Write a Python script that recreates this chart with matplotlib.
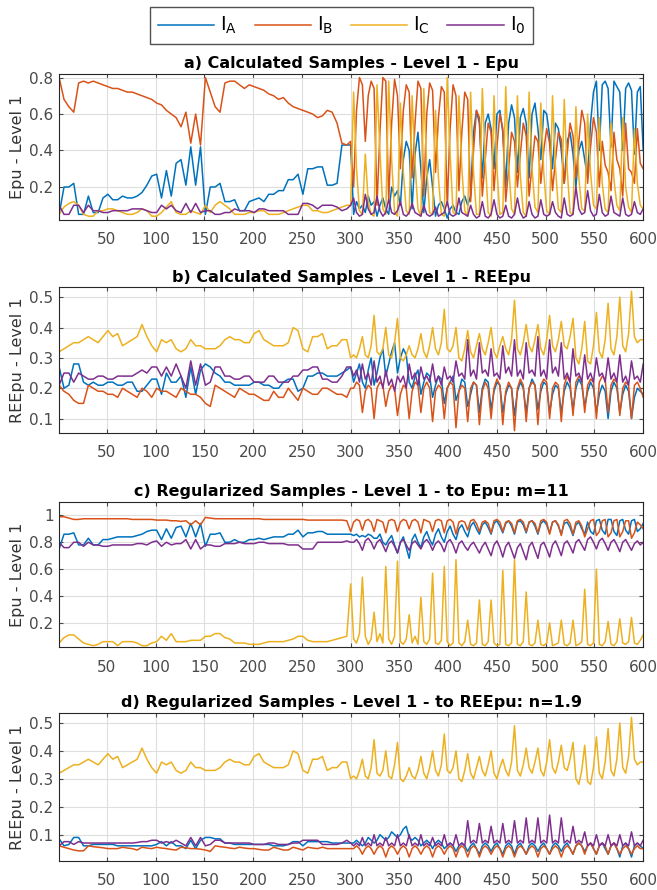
import matplotlib.pyplot as plt

plt.rcParams['font.family'] = ['DejaVu Sans']

# sample index: 1..296 every 5, then 300..600 every 3
samples = list(range(1, 300, 5)) + list(range(300, 601, 3))

# ---------------- a) Calculated Samples - Epu ----------------
ia_a = [0.05, 0.20, 0.20, 0.22, 0.05, 0.05, 0.15, 0.06, 0.06, 0.14,
        0.16, 0.13, 0.13, 0.15, 0.14, 0.14, 0.15, 0.17, 0.21, 0.26,
        0.27, 0.14, 0.29, 0.15, 0.33, 0.35, 0.21, 0.42, 0.21, 0.42,
        0.05, 0.20, 0.20, 0.22, 0.12, 0.12, 0.13, 0.07, 0.07, 0.12,
        0.13, 0.14, 0.12, 0.16, 0.16, 0.18, 0.18, 0.24, 0.24, 0.27,
        0.16, 0.30, 0.30, 0.31, 0.31, 0.21, 0.21, 0.22, 0.43, 0.43,
        0.43,
        0.05, 0.12, 0.08, 0.10, 0.06, 0.15, 0.10, 0.12, 0.04, 0.10, 0.14, 0.08,
        0.05, 0.20, 0.15, 0.18, 0.10, 0.35, 0.45, 0.40, 0.08, 0.38, 0.50, 0.30,
        0.06, 0.25, 0.35, 0.20, 0.04, 0.10, 0.12, 0.08, 0.03, 0.08, 0.10, 0.06,
        0.05, 0.12, 0.15, 0.10, 0.15, 0.50, 0.62, 0.55, 0.25, 0.55, 0.60, 0.52,
        0.30, 0.60, 0.62, 0.50, 0.20, 0.55, 0.65, 0.58, 0.28, 0.58, 0.63, 0.55,
        0.25, 0.60, 0.66, 0.52, 0.35, 0.62, 0.60, 0.48, 0.30, 0.55, 0.52, 0.40,
        0.22, 0.45, 0.50, 0.38, 0.20, 0.40, 0.45, 0.35, 0.25, 0.55, 0.72, 0.78,
        0.40, 0.76, 0.78, 0.74, 0.42, 0.78, 0.75, 0.72, 0.40, 0.74, 0.77, 0.73,
        0.38, 0.72, 0.75, 0.40]
ib_a = [0.80, 0.68, 0.64, 0.61, 0.77, 0.78, 0.77, 0.78, 0.77, 0.76,
        0.75, 0.74, 0.74, 0.73, 0.72, 0.72, 0.71, 0.70, 0.69, 0.68,
        0.66, 0.65, 0.62, 0.60, 0.58, 0.53, 0.61, 0.44, 0.60, 0.43,
        0.80, 0.72, 0.64, 0.61, 0.77, 0.78, 0.78, 0.76, 0.74, 0.76,
        0.75, 0.74, 0.73, 0.71, 0.70, 0.68, 0.69, 0.66, 0.64, 0.63,
        0.62, 0.61, 0.60, 0.58, 0.59, 0.62, 0.61, 0.55, 0.44, 0.43,
        0.45,
        0.20, 0.62, 0.80, 0.76, 0.45, 0.70, 0.78, 0.74, 0.10, 0.50, 0.80, 0.78,
        0.12, 0.55, 0.79, 0.70, 0.30, 0.62, 0.76, 0.72, 0.25, 0.55, 0.78, 0.74,
        0.15, 0.60, 0.77, 0.73, 0.28, 0.58, 0.75, 0.72, 0.10, 0.52, 0.76, 0.70,
        0.18, 0.50, 0.72, 0.68, 0.12, 0.40, 0.62, 0.58, 0.15, 0.35, 0.55, 0.50,
        0.18, 0.42, 0.60, 0.52, 0.12, 0.30, 0.50, 0.45, 0.20, 0.38, 0.55, 0.48,
        0.15, 0.32, 0.48, 0.45, 0.22, 0.40, 0.52, 0.44, 0.18, 0.35, 0.50, 0.46,
        0.22, 0.38, 0.55, 0.48, 0.25, 0.45, 0.62, 0.55, 0.22, 0.42, 0.58, 0.50,
        0.20, 0.45, 0.32, 0.28, 0.18, 0.50, 0.35, 0.30, 0.15, 0.55, 0.30, 0.28,
        0.22, 0.52, 0.33, 0.30]
ic_a = [0.05, 0.09, 0.11, 0.12, 0.10, 0.05, 0.04, 0.04, 0.07, 0.07,
        0.08, 0.08, 0.07, 0.06, 0.05, 0.05, 0.06, 0.08, 0.07, 0.04,
        0.04, 0.06, 0.09, 0.12, 0.06, 0.05, 0.05, 0.07, 0.06, 0.05,
        0.10, 0.06, 0.10, 0.12, 0.10, 0.08, 0.05, 0.05, 0.05, 0.06,
        0.06, 0.07, 0.07, 0.05, 0.05, 0.05, 0.06, 0.07, 0.08, 0.09,
        0.10, 0.10, 0.07, 0.07, 0.06, 0.06, 0.07, 0.08, 0.09, 0.10,
        0.10,
        0.72, 0.30, 0.07, 0.05, 0.38, 0.12, 0.05, 0.04, 0.76, 0.40, 0.08, 0.05,
        0.78, 0.35, 0.06, 0.04, 0.66, 0.28, 0.07, 0.05, 0.70, 0.33, 0.08, 0.04,
        0.74, 0.30, 0.06, 0.05, 0.62, 0.25, 0.05, 0.04, 0.80, 0.38, 0.06, 0.05,
        0.70, 0.30, 0.07, 0.04, 0.72, 0.28, 0.05, 0.05, 0.74, 0.35, 0.06, 0.04,
        0.70, 0.30, 0.05, 0.06, 0.75, 0.32, 0.08, 0.05, 0.70, 0.26, 0.06, 0.04,
        0.72, 0.30, 0.09, 0.06, 0.66, 0.28, 0.07, 0.05, 0.70, 0.31, 0.08, 0.06,
        0.68, 0.30, 0.06, 0.05, 0.64, 0.25, 0.08, 0.07, 0.60, 0.28, 0.10, 0.08,
        0.58, 0.22, 0.08, 0.06, 0.55, 0.24, 0.10, 0.07, 0.58, 0.20, 0.09, 0.06,
        0.52, 0.22, 0.10, 0.08]
i0_a = [0.10, 0.05, 0.05, 0.10, 0.10, 0.06, 0.10, 0.07, 0.07, 0.06,
        0.06, 0.07, 0.07, 0.07, 0.07, 0.08, 0.08, 0.08, 0.07, 0.06,
        0.06, 0.10, 0.08, 0.10, 0.07, 0.06, 0.11, 0.06, 0.11, 0.06,
        0.07, 0.07, 0.05, 0.05, 0.06, 0.06, 0.08, 0.07, 0.07, 0.07,
        0.06, 0.08, 0.08, 0.07, 0.07, 0.07, 0.07, 0.05, 0.05, 0.05,
        0.11, 0.11, 0.10, 0.08, 0.10, 0.10, 0.10, 0.09, 0.07, 0.08,
        0.10,
        0.14, 0.06, 0.04, 0.05, 0.16, 0.08, 0.05, 0.06, 0.15, 0.07, 0.04, 0.06,
        0.13, 0.06, 0.05, 0.07, 0.12, 0.05, 0.04, 0.06, 0.11, 0.06, 0.05, 0.04,
        0.10, 0.05, 0.04, 0.05, 0.09, 0.04, 0.05, 0.06, 0.12, 0.05, 0.04, 0.05,
        0.14, 0.06, 0.05, 0.04, 0.10, 0.05, 0.03, 0.04, 0.12, 0.04, 0.03, 0.05,
        0.13, 0.05, 0.03, 0.04, 0.10, 0.04, 0.03, 0.05, 0.14, 0.06, 0.03, 0.04,
        0.12, 0.05, 0.03, 0.04, 0.13, 0.05, 0.04, 0.05, 0.12, 0.06, 0.04, 0.03,
        0.14, 0.05, 0.04, 0.05, 0.20, 0.08, 0.05, 0.06, 0.18, 0.07, 0.04, 0.05,
        0.16, 0.06, 0.04, 0.05, 0.15, 0.06, 0.05, 0.04, 0.14, 0.05, 0.04, 0.05,
        0.12, 0.06, 0.05, 0.08]

# ---------------- b) Calculated Samples - REEpu ----------------
ia_b = [0.27, 0.20, 0.21, 0.28, 0.28, 0.22, 0.21, 0.22, 0.21, 0.21,
        0.22, 0.22, 0.21, 0.21, 0.22, 0.22, 0.19, 0.19, 0.21, 0.23,
        0.23, 0.18, 0.25, 0.22, 0.22, 0.24, 0.17, 0.27, 0.18, 0.26,
        0.28, 0.27, 0.25, 0.24, 0.22, 0.22, 0.21, 0.21, 0.21, 0.21,
        0.22, 0.22, 0.21, 0.21, 0.20, 0.20, 0.22, 0.23, 0.23, 0.19,
        0.20, 0.24, 0.24, 0.25, 0.25, 0.24, 0.24, 0.24, 0.25, 0.26,
        0.27,
        0.22, 0.25, 0.28, 0.22, 0.20, 0.26, 0.30, 0.21, 0.25, 0.30, 0.33, 0.24,
        0.28, 0.32, 0.35, 0.25, 0.30, 0.33, 0.31, 0.22, 0.20, 0.24, 0.26, 0.18,
        0.22, 0.25, 0.24, 0.17, 0.21, 0.24, 0.23, 0.15, 0.20, 0.22, 0.24, 0.16,
        0.19, 0.23, 0.22, 0.14, 0.18, 0.22, 0.21, 0.12, 0.20, 0.23, 0.22, 0.13,
        0.19, 0.22, 0.21, 0.12, 0.18, 0.21, 0.20, 0.11, 0.19, 0.22, 0.20, 0.12,
        0.20, 0.23, 0.21, 0.13, 0.19, 0.22, 0.21, 0.12, 0.18, 0.21, 0.20, 0.12,
        0.19, 0.22, 0.20, 0.13, 0.20, 0.23, 0.21, 0.14, 0.19, 0.22, 0.20, 0.12,
        0.18, 0.21, 0.19, 0.10, 0.19, 0.22, 0.20, 0.12, 0.18, 0.21, 0.19, 0.10,
        0.17, 0.20, 0.19, 0.18]
ib_b = [0.21, 0.19, 0.18, 0.16, 0.15, 0.15, 0.21, 0.20, 0.19, 0.19,
        0.18, 0.18, 0.17, 0.20, 0.19, 0.18, 0.17, 0.20, 0.19, 0.17,
        0.20, 0.19, 0.19, 0.18, 0.17, 0.20, 0.19, 0.18, 0.18, 0.17,
        0.15, 0.14, 0.21, 0.20, 0.19, 0.18, 0.17, 0.20, 0.19, 0.18,
        0.18, 0.17, 0.16, 0.16, 0.19, 0.17, 0.17, 0.20, 0.18, 0.16,
        0.20, 0.19, 0.18, 0.18, 0.20, 0.20, 0.19, 0.18, 0.18, 0.17,
        0.20,
        0.20, 0.22, 0.21, 0.12, 0.19, 0.21, 0.20, 0.10, 0.20, 0.22, 0.21, 0.14,
        0.19, 0.21, 0.20, 0.11, 0.18, 0.21, 0.20, 0.10, 0.19, 0.22, 0.21, 0.12,
        0.20, 0.22, 0.20, 0.09, 0.19, 0.21, 0.20, 0.10, 0.20, 0.22, 0.21, 0.07,
        0.19, 0.21, 0.20, 0.09, 0.20, 0.22, 0.21, 0.08, 0.19, 0.22, 0.20, 0.10,
        0.20, 0.23, 0.21, 0.08, 0.19, 0.22, 0.20, 0.06, 0.20, 0.23, 0.21, 0.09,
        0.20, 0.22, 0.21, 0.08, 0.21, 0.23, 0.22, 0.10, 0.20, 0.22, 0.21, 0.09,
        0.21, 0.24, 0.22, 0.11, 0.22, 0.24, 0.23, 0.12, 0.21, 0.23, 0.22, 0.10,
        0.22, 0.24, 0.23, 0.12, 0.21, 0.23, 0.22, 0.11, 0.20, 0.22, 0.21, 0.10,
        0.21, 0.22, 0.20, 0.17]
ic_b = [0.32, 0.33, 0.34, 0.35, 0.35, 0.36, 0.37, 0.36, 0.35, 0.37,
        0.39, 0.37, 0.38, 0.34, 0.35, 0.36, 0.37, 0.41, 0.37, 0.34,
        0.32, 0.36, 0.35, 0.36, 0.33, 0.32, 0.33, 0.36, 0.34, 0.34,
        0.33, 0.33, 0.33, 0.34, 0.36, 0.37, 0.36, 0.36, 0.35, 0.35,
        0.38, 0.39, 0.36, 0.35, 0.34, 0.34, 0.34, 0.35, 0.40, 0.39,
        0.33, 0.32, 0.37, 0.37, 0.38, 0.33, 0.34, 0.34, 0.36, 0.36,
        0.30,
        0.31, 0.30, 0.33, 0.37, 0.31, 0.30, 0.34, 0.44, 0.32, 0.31, 0.33, 0.40,
        0.31, 0.30, 0.35, 0.43, 0.30, 0.29, 0.31, 0.34, 0.31, 0.30, 0.33, 0.38,
        0.32, 0.30, 0.34, 0.40, 0.33, 0.31, 0.35, 0.46, 0.33, 0.32, 0.34, 0.40,
        0.30, 0.29, 0.33, 0.39, 0.32, 0.30, 0.34, 0.38, 0.33, 0.31, 0.35, 0.40,
        0.32, 0.30, 0.34, 0.37, 0.33, 0.31, 0.36, 0.49, 0.33, 0.31, 0.35, 0.41,
        0.34, 0.32, 0.36, 0.41, 0.33, 0.31, 0.36, 0.44, 0.34, 0.32, 0.36, 0.42,
        0.34, 0.33, 0.37, 0.43, 0.30, 0.28, 0.33, 0.42, 0.29, 0.28, 0.34, 0.45,
        0.32, 0.30, 0.36, 0.48, 0.33, 0.31, 0.37, 0.50, 0.34, 0.32, 0.38, 0.52,
        0.37, 0.35, 0.36, 0.36]
i0_b = [0.21, 0.25, 0.25, 0.22, 0.25, 0.24, 0.23, 0.23, 0.24, 0.24,
        0.23, 0.23, 0.24, 0.24, 0.24, 0.24, 0.25, 0.26, 0.25, 0.27,
        0.27, 0.24, 0.27, 0.24, 0.28, 0.24, 0.20, 0.29, 0.21, 0.28,
        0.21, 0.22, 0.27, 0.27, 0.24, 0.24, 0.23, 0.23, 0.24, 0.24,
        0.22, 0.22, 0.22, 0.24, 0.24, 0.22, 0.22, 0.22, 0.24, 0.24,
        0.26, 0.26, 0.27, 0.27, 0.23, 0.23, 0.22, 0.22, 0.24, 0.27,
        0.27,
        0.24, 0.26, 0.22, 0.28, 0.23, 0.25, 0.21, 0.29, 0.22, 0.24, 0.20, 0.26,
        0.21, 0.23, 0.19, 0.24, 0.22, 0.24, 0.20, 0.28, 0.23, 0.25, 0.21, 0.27,
        0.23, 0.24, 0.22, 0.28, 0.22, 0.24, 0.21, 0.27, 0.23, 0.24, 0.22, 0.29,
        0.24, 0.25, 0.23, 0.36, 0.24, 0.26, 0.23, 0.35, 0.25, 0.26, 0.24, 0.33,
        0.24, 0.25, 0.23, 0.34, 0.25, 0.27, 0.24, 0.36, 0.24, 0.26, 0.23, 0.35,
        0.25, 0.26, 0.24, 0.37, 0.24, 0.26, 0.23, 0.36, 0.25, 0.27, 0.24, 0.35,
        0.23, 0.25, 0.22, 0.33, 0.24, 0.25, 0.22, 0.31, 0.23, 0.25, 0.22, 0.30,
        0.24, 0.25, 0.22, 0.30, 0.23, 0.25, 0.22, 0.31, 0.22, 0.24, 0.21, 0.29,
        0.23, 0.24, 0.22, 0.28]

# ---------------- c) Regularized Samples - to Epu ----------------
ia_c = [0.75, 0.86, 0.86, 0.87, 0.78, 0.78, 0.83, 0.78, 0.78, 0.82,
        0.82, 0.83, 0.84, 0.84, 0.84, 0.84, 0.85, 0.86, 0.88, 0.89,
        0.89, 0.82, 0.90, 0.83, 0.91, 0.92, 0.84, 0.94, 0.84, 0.94,
        0.77, 0.86, 0.86, 0.87, 0.80, 0.80, 0.82, 0.80, 0.80, 0.82,
        0.82, 0.83, 0.82, 0.83, 0.84, 0.84, 0.84, 0.86, 0.86, 0.89,
        0.84, 0.87, 0.87, 0.88, 0.88, 0.86, 0.86, 0.86, 0.86, 0.86,
        0.86,
        0.85, 0.86, 0.84, 0.85, 0.84, 0.86, 0.85, 0.83, 0.83, 0.86, 0.80, 0.78,
        0.82, 0.85, 0.78, 0.72, 0.80, 0.84, 0.76, 0.68, 0.82, 0.86, 0.80, 0.76,
        0.84, 0.88, 0.82, 0.78, 0.86, 0.90, 0.84, 0.80, 0.88, 0.92, 0.86, 0.82,
        0.90, 0.93, 0.88, 0.84, 0.92, 0.95, 0.90, 0.86, 0.93, 0.95, 0.91, 0.86,
        0.94, 0.96, 0.92, 0.87, 0.94, 0.96, 0.92, 0.86, 0.95, 0.96, 0.93, 0.87,
        0.95, 0.96, 0.92, 0.86, 0.94, 0.96, 0.93, 0.87, 0.95, 0.96, 0.92, 0.86,
        0.94, 0.95, 0.91, 0.85, 0.93, 0.95, 0.90, 0.86, 0.95, 0.88, 0.86, 0.96,
        0.97, 0.89, 0.86, 0.97, 0.97, 0.88, 0.85, 0.96, 0.97, 0.89, 0.86, 0.96,
        0.97, 0.88, 0.90, 0.94]
ib_c = [0.99, 0.99, 0.98, 0.97, 0.97, 0.975, 0.975, 0.975, 0.975, 0.975,
        0.975, 0.975, 0.975, 0.975, 0.975, 0.97, 0.97, 0.97, 0.97, 0.97,
        0.965, 0.965, 0.965, 0.96, 0.96, 0.955, 0.96, 0.93, 0.96, 0.93,
        0.985, 0.98, 0.975, 0.975, 0.975, 0.975, 0.975, 0.975, 0.975, 0.975,
        0.975, 0.975, 0.97, 0.97, 0.97, 0.97, 0.97, 0.97, 0.97, 0.97,
        0.97, 0.965, 0.965, 0.965, 0.965, 0.965, 0.965, 0.965, 0.965, 0.96,
        0.88,
        0.95, 0.97, 0.96, 0.89, 0.96, 0.97, 0.95, 0.88, 0.97, 0.96, 0.95, 0.87,
        0.96, 0.97, 0.96, 0.88, 0.95, 0.97, 0.96, 0.90, 0.96, 0.97, 0.95, 0.87,
        0.97, 0.96, 0.95, 0.88, 0.96, 0.97, 0.96, 0.87, 0.96, 0.97, 0.95, 0.86,
        0.95, 0.96, 0.95, 0.89, 0.96, 0.97, 0.94, 0.88, 0.95, 0.96, 0.94, 0.87,
        0.96, 0.97, 0.95, 0.88, 0.95, 0.96, 0.94, 0.87, 0.96, 0.97, 0.95, 0.88,
        0.95, 0.96, 0.94, 0.87, 0.96, 0.97, 0.95, 0.86, 0.95, 0.96, 0.93, 0.85,
        0.96, 0.97, 0.94, 0.86, 0.95, 0.96, 0.92, 0.84, 0.90, 0.96, 0.97, 0.85,
        0.88, 0.96, 0.97, 0.84, 0.87, 0.96, 0.97, 0.84, 0.88, 0.96, 0.96, 0.83,
        0.87, 0.95, 0.93, 0.90]
ic_c = [0.05, 0.09, 0.11, 0.11, 0.08, 0.05, 0.04, 0.03, 0.04, 0.06,
        0.06, 0.06, 0.03, 0.06, 0.06, 0.06, 0.05, 0.03, 0.03, 0.05,
        0.06, 0.10, 0.07, 0.12, 0.06, 0.06, 0.06, 0.07, 0.07, 0.07,
        0.10, 0.10, 0.12, 0.12, 0.09, 0.08, 0.05, 0.05, 0.05, 0.04,
        0.04, 0.04, 0.05, 0.06, 0.06, 0.06, 0.06, 0.07, 0.08, 0.10,
        0.10, 0.07, 0.06, 0.06, 0.06, 0.06, 0.07, 0.08, 0.09, 0.10,
        0.49,
        0.08, 0.05, 0.12, 0.54, 0.10, 0.04, 0.08, 0.28, 0.06, 0.12, 0.05, 0.62,
        0.08, 0.04, 0.10, 0.66, 0.06, 0.04, 0.08, 0.26, 0.05, 0.10, 0.04, 0.39,
        0.06, 0.04, 0.08, 0.57, 0.05, 0.04, 0.07, 0.62, 0.06, 0.03, 0.05, 0.67,
        0.05, 0.03, 0.06, 0.22, 0.04, 0.03, 0.05, 0.37, 0.04, 0.03, 0.06, 0.37,
        0.05, 0.03, 0.04, 0.59, 0.04, 0.03, 0.05, 0.67, 0.04, 0.03, 0.06, 0.43,
        0.04, 0.03, 0.05, 0.22, 0.04, 0.03, 0.05, 0.20, 0.03, 0.04, 0.05, 0.22,
        0.04, 0.03, 0.05, 0.22, 0.03, 0.04, 0.06, 0.45, 0.04, 0.03, 0.05, 0.60,
        0.04, 0.03, 0.06, 0.21, 0.04, 0.03, 0.06, 0.23, 0.05, 0.04, 0.06, 0.24,
        0.05, 0.04, 0.07, 0.11]
i0_c = [0.80, 0.76, 0.76, 0.80, 0.80, 0.77, 0.80, 0.78, 0.78, 0.77,
        0.77, 0.78, 0.78, 0.78, 0.78, 0.78, 0.79, 0.79, 0.78, 0.80,
        0.81, 0.77, 0.80, 0.78, 0.79, 0.79, 0.82, 0.75, 0.82, 0.75,
        0.78, 0.78, 0.77, 0.77, 0.79, 0.79, 0.79, 0.80, 0.79, 0.79,
        0.79, 0.80, 0.80, 0.79, 0.79, 0.79, 0.79, 0.78, 0.78, 0.78,
        0.75, 0.75, 0.75, 0.80, 0.80, 0.80, 0.80, 0.80, 0.80, 0.81,
        0.80,
        0.80, 0.82, 0.79, 0.74, 0.81, 0.83, 0.80, 0.75, 0.80, 0.82, 0.78, 0.73,
        0.79, 0.81, 0.77, 0.72, 0.80, 0.82, 0.78, 0.74, 0.79, 0.81, 0.78, 0.75,
        0.80, 0.82, 0.79, 0.74, 0.79, 0.81, 0.78, 0.73, 0.80, 0.82, 0.78, 0.72,
        0.79, 0.81, 0.77, 0.74, 0.78, 0.80, 0.76, 0.72, 0.77, 0.80, 0.75, 0.70,
        0.78, 0.81, 0.76, 0.69, 0.77, 0.80, 0.74, 0.68, 0.76, 0.79, 0.73, 0.67,
        0.77, 0.80, 0.74, 0.68, 0.78, 0.80, 0.75, 0.69, 0.78, 0.81, 0.76, 0.70,
        0.79, 0.81, 0.77, 0.72, 0.80, 0.82, 0.78, 0.74, 0.82, 0.84, 0.80, 0.75,
        0.81, 0.83, 0.79, 0.74, 0.80, 0.82, 0.78, 0.73, 0.80, 0.82, 0.78, 0.74,
        0.79, 0.81, 0.78, 0.80]

# ---------------- d) Regularized Samples - to REEpu ----------------
ia_d = [0.085, 0.06, 0.065, 0.09, 0.09, 0.06, 0.06, 0.065, 0.065, 0.065,
        0.065, 0.065, 0.06, 0.06, 0.06, 0.06, 0.06, 0.06, 0.06, 0.06,
        0.065, 0.075, 0.06, 0.075, 0.06, 0.06, 0.05, 0.08, 0.05, 0.08,
        0.09, 0.09, 0.085, 0.085, 0.07, 0.07, 0.065, 0.065, 0.065, 0.065,
        0.065, 0.065, 0.065, 0.065, 0.06, 0.06, 0.06, 0.065, 0.075, 0.075,
        0.06, 0.075, 0.075, 0.075, 0.075, 0.075, 0.07, 0.07, 0.07, 0.07,
        0.07,
        0.07, 0.08, 0.07, 0.06, 0.07, 0.09, 0.08, 0.07, 0.08, 0.10, 0.09, 0.08,
        0.09, 0.11, 0.10, 0.09, 0.10, 0.12, 0.13, 0.09, 0.08, 0.09, 0.08, 0.06,
        0.07, 0.08, 0.07, 0.05, 0.07, 0.08, 0.07, 0.05, 0.06, 0.07, 0.06, 0.04,
        0.06, 0.07, 0.06, 0.04, 0.06, 0.07, 0.05, 0.03, 0.06, 0.07, 0.06, 0.04,
        0.06, 0.07, 0.05, 0.03, 0.06, 0.07, 0.06, 0.03, 0.06, 0.07, 0.05, 0.03,
        0.06, 0.07, 0.06, 0.04, 0.06, 0.07, 0.05, 0.03, 0.06, 0.07, 0.06, 0.04,
        0.06, 0.07, 0.05, 0.03, 0.06, 0.07, 0.06, 0.04, 0.06, 0.07, 0.05, 0.03,
        0.06, 0.07, 0.05, 0.03, 0.06, 0.07, 0.05, 0.02, 0.06, 0.07, 0.05, 0.02,
        0.06, 0.07, 0.06, 0.05]
ib_d = [0.06, 0.055, 0.05, 0.045, 0.042, 0.042, 0.06, 0.057, 0.055, 0.053,
        0.05, 0.05, 0.05, 0.055, 0.052, 0.05, 0.045, 0.055, 0.052, 0.05,
        0.055, 0.052, 0.05, 0.047, 0.045, 0.055, 0.053, 0.05, 0.05, 0.048,
        0.045, 0.04, 0.06, 0.057, 0.055, 0.052, 0.05, 0.055, 0.052, 0.05,
        0.05, 0.047, 0.045, 0.045, 0.055, 0.05, 0.045, 0.045, 0.055, 0.05,
        0.045, 0.055, 0.052, 0.05, 0.055, 0.05, 0.05, 0.05, 0.05, 0.05,
        0.05,
        0.05, 0.06, 0.05, 0.03, 0.05, 0.06, 0.05, 0.03, 0.05, 0.06, 0.05, 0.02,
        0.05, 0.06, 0.05, 0.03, 0.05, 0.06, 0.05, 0.02, 0.05, 0.06, 0.05, 0.03,
        0.05, 0.06, 0.05, 0.02, 0.05, 0.06, 0.05, 0.03, 0.05, 0.06, 0.05, 0.02,
        0.05, 0.06, 0.05, 0.02, 0.05, 0.06, 0.05, 0.02, 0.05, 0.06, 0.05, 0.03,
        0.05, 0.06, 0.05, 0.02, 0.05, 0.06, 0.05, 0.02, 0.05, 0.06, 0.05, 0.03,
        0.05, 0.06, 0.05, 0.02, 0.05, 0.06, 0.05, 0.03, 0.05, 0.06, 0.05, 0.02,
        0.05, 0.06, 0.05, 0.03, 0.06, 0.07, 0.06, 0.03, 0.06, 0.07, 0.05, 0.03,
        0.06, 0.07, 0.06, 0.03, 0.06, 0.07, 0.05, 0.03, 0.05, 0.06, 0.05, 0.03,
        0.05, 0.06, 0.05, 0.05]
ic_d = ic_b  # the C phase REEpu is unchanged by the regularization
i0_d = [0.06, 0.075, 0.075, 0.065, 0.075, 0.07, 0.07, 0.07, 0.07, 0.07,
        0.07, 0.07, 0.07, 0.07, 0.07, 0.07, 0.072, 0.075, 0.075, 0.08,
        0.08, 0.07, 0.075, 0.07, 0.08, 0.07, 0.06, 0.09, 0.06, 0.09,
        0.06, 0.065, 0.08, 0.08, 0.07, 0.07, 0.07, 0.07, 0.07, 0.07,
        0.065, 0.065, 0.065, 0.07, 0.07, 0.065, 0.065, 0.065, 0.07, 0.07,
        0.08, 0.08, 0.08, 0.08, 0.065, 0.065, 0.065, 0.065, 0.07, 0.08,
        0.07,
        0.06, 0.07, 0.06, 0.09, 0.06, 0.07, 0.06, 0.10, 0.06, 0.07, 0.06, 0.09,
        0.06, 0.07, 0.06, 0.10, 0.06, 0.07, 0.06, 0.10, 0.06, 0.07, 0.06, 0.10,
        0.06, 0.07, 0.06, 0.09, 0.06, 0.07, 0.06, 0.10, 0.06, 0.07, 0.06, 0.10,
        0.06, 0.07, 0.06, 0.15, 0.07, 0.08, 0.07, 0.14, 0.07, 0.08, 0.07, 0.13,
        0.07, 0.08, 0.07, 0.14, 0.07, 0.08, 0.07, 0.15, 0.07, 0.08, 0.07, 0.16,
        0.07, 0.08, 0.07, 0.16, 0.07, 0.08, 0.07, 0.17, 0.07, 0.08, 0.07, 0.16,
        0.07, 0.08, 0.07, 0.13, 0.07, 0.08, 0.07, 0.11, 0.06, 0.07, 0.06, 0.10,
        0.06, 0.07, 0.06, 0.10, 0.06, 0.07, 0.06, 0.10, 0.06, 0.07, 0.06, 0.11,
        0.06, 0.07, 0.06, 0.08]

labels = [r'I$_\mathregular{A}$', r'I$_\mathregular{B}$',
          r'I$_\mathregular{C}$', r'I$_\mathregular{0}$']
colors = ['#0072BD', '#D95319', '#EDB120', '#7E2F8E']

panels = [
    ('a) Calculated Samples - Level 1 - Epu', 'Epu - Level 1',
     [ia_a, ib_a, ic_a, i0_a], (0.02, 0.82), [0.2, 0.4, 0.6, 0.8]),
    ('b) Calculated Samples - Level 1 - REEpu', 'REEpu - Level 1',
     [ia_b, ib_b, ic_b, i0_b], (0.054, 0.532), [0.1, 0.2, 0.3, 0.4, 0.5]),
    ('c) Regularized Samples - Level 1 - to Epu: m=11', 'Epu - Level 1',
     [ia_c, ib_c, ic_c, i0_c], (0.02, 1.10), [0.2, 0.4, 0.6, 0.8, 1]),
    ('d) Regularized Samples - Level 1 - to REEpu: n=1.9', 'REEpu - Level 1',
     [ia_d, ib_d, ic_d, i0_d], (0.007, 0.536), [0.1, 0.2, 0.3, 0.4, 0.5]),
]
# axes boxes in figure fraction: left, bottom, width, height
boxes = [(0.090, 0.753, 0.889, 0.164),
         (0.090, 0.514, 0.889, 0.163),
         (0.090, 0.273, 0.889, 0.163),
         (0.090, 0.033, 0.889, 0.166)]

fig = plt.figure(figsize=(6.57, 8.9), dpi=100)
for (title, ylab, series, ylim, yticks), box in zip(panels, boxes):
    ax = fig.add_axes(box)
    for s, c, lab in zip(series, colors, labels):
        ax.plot(samples, s, color=c, lw=1.1, label=lab)
    ax.set_xlim(1, 600)
    ax.set_ylim(*ylim)
    ax.set_xticks(range(50, 601, 50))
    ax.set_yticks(yticks)
    ax.set_yticklabels([f'{t:g}' for t in yticks])
    ax.grid(True, color='#dedede', lw=0.8)
    ax.set_axisbelow(True)
    ax.tick_params(direction='in', length=3, labelsize=11, colors='#4a4a4a',
                   top=True, right=True)
    ax.tick_params(axis='x', pad=9)
    ax.tick_params(axis='y', pad=4)
    for sp in ax.spines.values():
        sp.set_color('#262626')
        sp.set_linewidth(0.8)
    ax.set_title(title, fontsize=11.5, fontweight='bold', pad=4)
    ax.set_ylabel(ylab, fontsize=11.5, color='#333333', labelpad=3)
    if box is boxes[0]:
        handles = ax.get_lines()

fig.legend(handles, labels, loc='center', bbox_to_anchor=(0.52, 0.971),
           ncol=4, fontsize=14, frameon=True, fancybox=False,
           edgecolor='#262626', handlelength=2.9, columnspacing=0.9,
           handletextpad=0.3, borderpad=0.4, handleheight=0.6)

fig.savefig('out.png', dpi=100)
